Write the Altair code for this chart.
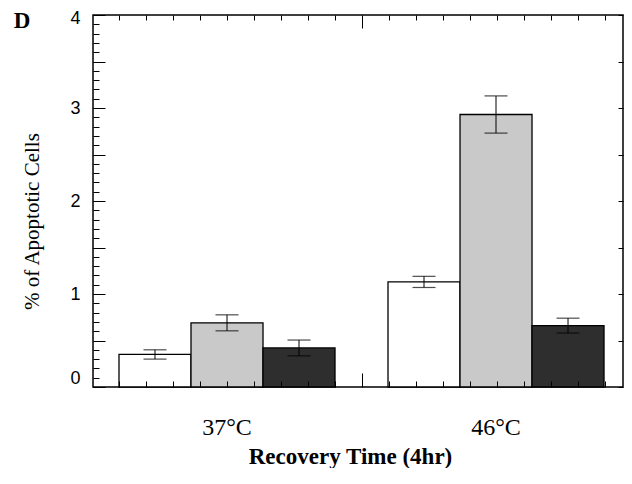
import altair as alt
import pandas as pd

# ---- data ----
groups = ["37°C", "46°C"]
series = ["Series 1", "Series 2", "Series 3"]
group_col = ["37°C", "37°C", "37°C", "46°C", "46°C", "46°C"]
series_col = ["Series 1", "Series 2", "Series 3", "Series 1", "Series 2", "Series 3"]
means = [0.35, 0.69, 0.42, 1.13, 2.93, 0.66]
errors = [0.05, 0.086, 0.085, 0.06, 0.20, 0.08]
y_label_values = [0, 1, 2, 3, 4]
y_minor_values = [round(i * 0.1, 1) for i in range(41)]
y_major_values = [i * 0.5 for i in range(9)]
x_minor_values = [k for k in range(19) if k != 9]
x_major_values = [9]

fills = ["#ffffff", "#c9c9c9", "#2e2e2e"]

df = pd.DataFrame({"group": group_col, "series": series_col, "mean": means, "err": errors})

W, H = 530, 372

yscale = alt.Scale(domain=[0, 4], nice=False, zero=True)
xscale = alt.Scale(domain=groups, paddingInner=0.197, paddingOuter=0.0836, align=0.578)


def xoff():
    return alt.XOffset("series:N", sort=series,
                       scale=alt.Scale(domain=series, paddingInner=0, paddingOuter=0))


def tick_axis(orient, values, size):
    return alt.Axis(orient=orient, values=values, tickSize=size, offset=-size,
                    labels=False, domain=False, title=None, grid=False, zindex=1,
                    ticks=True, tickColor="black", tickWidth=1)


base = alt.Chart(df).transform_calculate(
    lo="datum.mean - datum.err", hi="datum.mean + datum.err"
)

bars = base.mark_bar(stroke="black", strokeWidth=1.3, opacity=1).encode(
    x=alt.X("group:N", sort=groups, scale=xscale,
            axis=alt.Axis(orient="bottom", title="Recovery Time (4hr)", domain=False,
                          ticks=False, tickSize=0, labelAngle=0,
                          labelFont="Liberation Serif", labelFontSize=24, labelColor="black",
                          labelPadding=28,
                          titleFont="Liberation Serif", titleFontSize=23,
                          titleFontWeight="bold", titleColor="black",
                          titleX=257, titleY=76, titleBaseline="alphabetic",
                          titleAlign="center")),
    xOffset=xoff(),
    y=alt.Y("mean:Q", scale=yscale,
            axis=alt.Axis(orient="left", values=y_label_values, ticks=False, tickSize=0,
                          domain=False, grid=False, format="d",
                          labelFont="Liberation Sans", labelFontSize=18, labelColor="black",
                          labelPadding=13,
                          labelBaseline={"condition": {"test": "datum.value == 0", "value": "bottom"},
                                         "value": "middle"},
                          labelOffset={"condition": {"test": "datum.value == 4", "value": 3},
                                       "value": 0},
                          title="% of Apoptotic Cells", titleFont="Liberation Serif",
                          titleFontSize=21, titleFontWeight="normal", titleColor="black",
                          titleX=-55, titleY=206, titleAngle=-90, titleAlign="center",
                          titleBaseline="alphabetic")),
    fill=alt.Fill("series:N", scale=alt.Scale(domain=series, range=fills), legend=None),
)

rules = base.mark_rule(color="black", strokeWidth=1).encode(
    x=alt.X("group:N", sort=groups, scale=xscale, axis=None),
    xOffset=xoff(),
    y=alt.Y("lo:Q", scale=yscale, axis=tick_axis("right", y_major_values, 5)),
    y2="hi:Q",
)

caps_hi = base.mark_tick(color="black", size=23, thickness=1.2).encode(
    x=alt.X("group:N", sort=groups, scale=xscale, axis=None),
    xOffset=xoff(),
    y=alt.Y("hi:Q", scale=yscale, axis=tick_axis("left", y_minor_values, 6)),
)

caps_lo = base.mark_tick(color="black", size=23, thickness=1.2).encode(
    x=alt.X("group:N", sort=groups, scale=xscale, axis=None),
    xOffset=xoff(),
    y=alt.Y("lo:Q", scale=yscale, axis=tick_axis("left", y_major_values, 12)),
)

kscale = alt.Scale(domain=[-26 / 27, (W - 26) / 27], nice=False, zero=False)


def xtick_layer(orient, values, size):
    return alt.Chart(df).mark_point(opacity=0).encode(
        x=alt.XDatum(0, type="quantitative", scale=kscale,
                     axis=tick_axis(orient, values, size))
    )


xticks = [
    xtick_layer("top", x_minor_values, 5),
    xtick_layer("top", x_major_values, 13),
    xtick_layer("bottom", x_minor_values, 6),
    xtick_layer("bottom", x_major_values, 14),
]

dlabel = alt.Chart(pd.DataFrame({"t": ["D"]})).mark_text(
    font="Liberation Serif", fontSize=23, fontWeight="bold", align="center",
    baseline="alphabetic", color="black"
).encode(text="t:N", x=alt.value(-71), y=alt.value(13))

chart = alt.layer(bars, rules, caps_hi, caps_lo, *xticks, dlabel).resolve_scale(
    x="independent", xOffset="independent"
).resolve_axis(
    x="independent", y="independent"
).properties(
    width=W, height=H,
    autosize=alt.AutoSizeParams(type="none"),
    padding={"left": 85, "top": 7, "right": 1, "bottom": 81},
    background="white",
).configure_view(
    stroke="black", strokeWidth=1.5
).configure_axis(grid=False)

chart.save("out.html", embed_options={"renderer": "svg", "actions": False})
